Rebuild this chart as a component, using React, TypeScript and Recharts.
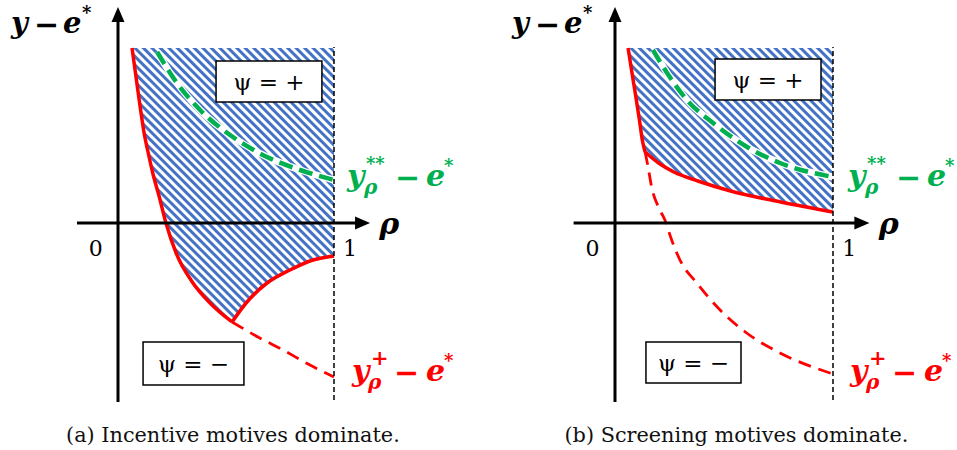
import {
  Area,
  ComposedChart,
  Line,
  ReferenceArea,
  ReferenceDot,
  ReferenceLine,
  XAxis,
  YAxis,
} from "recharts";

// values are in chart units: x = rho (0..1), y = y - e*
const TOP = 1.75;

// (a) incentive motives dominate
const redLeftA = [
  [0.065, 1.75], [0.079, 1.53], [0.093, 1.31], [0.106, 1.11], [0.12, 0.91], [0.139, 0.71],
  [0.162, 0.49], [0.19, 0.27], [0.222, 0.0], [0.269, -0.3], [0.347, -0.6], [0.426, -0.8], [0.528, -0.99],
];
const redRightA = [
  [0.528, -0.99], [0.597, -0.79], [0.69, -0.6], [0.796, -0.47], [0.903, -0.37], [1.0, -0.33],
];
const redDashA = [
  [0.528, -0.99], [0.648, -1.14], [0.764, -1.27], [0.88, -1.41], [1.0, -1.54],
];
const greenA = [
  [0.181, 1.71], [0.273, 1.4], [0.38, 1.13], [0.532, 0.86], [0.69, 0.66], [0.843, 0.53], [1.0, 0.43],
];

// (b) screening motives dominate
const redLeftB = [
  [0.06, 1.75], [0.078, 1.5], [0.095, 1.27], [0.112, 1.03], [0.126, 0.82], [0.138, 0.71],
];
const redRightB = [
  [0.138, 0.71], [0.2, 0.6], [0.27, 0.51], [0.38, 0.42], [0.53, 0.32], [0.76, 0.21], [1.0, 0.11],
];
const redDashB = [
  [0.138, 0.71], [0.15, 0.58], [0.168, 0.36], [0.199, 0.16], [0.229, 0.03], [0.26, -0.17],
  [0.298, -0.37], [0.375, -0.6], [0.482, -0.87], [0.604, -1.1], [0.757, -1.3], [1.0, -1.51],
];
const greenB = [
  [0.174, 1.73], [0.239, 1.5], [0.33, 1.23], [0.45, 1.0], [0.606, 0.76], [0.757, 0.6], [1.0, 0.46],
];

const captions = ["(a) Incentive motives dominate.", "(b) Screening motives dominate."];
const plusBoxes = [
  [0.454, 0.944, 1.21, 1.62],
  [0.459, 0.945, 1.23, 1.64],
];
const minusBoxes = [
  [0.116, 0.583, -1.62, -1.19],
  [0.142, 0.578, -1.6, -1.19],
];

const W = 478;
const H = 450;
const YMIN = -2.27;
const YMAX = 2.23;
const RED = "#FF0000";
const GREEN = "#00B050";
const BLUE = "#4472C4";
const MATH = '"DejaVu Serif", serif';

type Piece = { t: string; dx: number; dy?: number; size?: number; plain?: boolean; sans?: boolean };

const yMinusE: Piece[] = [
  { t: "y", dx: 0 },
  { t: "−", dx: 23, dy: 2, size: 30, plain: true, sans: true },
  { t: "e", dx: 52 },
  { t: "*", dx: 71, dy: -14, size: 18, plain: true },
];
const greenLabel: Piece[] = [
  { t: "y", dx: 0 },
  { t: "ρ", dx: 17, dy: 8, size: 20 },
  { t: "**", dx: 19, dy: -16, size: 18, plain: true },
  { t: "−", dx: 48, dy: 2, size: 30, plain: true, sans: true },
  { t: "e", dx: 79 },
  { t: "*", dx: 97, dy: -14, size: 18, plain: true },
];
const redLabel: Piece[] = [
  { t: "y", dx: 0 },
  { t: "ρ", dx: 16, dy: 8, size: 20 },
  { t: "+", dx: 19, dy: -16, size: 21, plain: true },
  { t: "−", dx: 42, dy: 2, size: 30, plain: true, sans: true },
  { t: "e", dx: 74 },
  { t: "*", dx: 92, dy: -14, size: 18, plain: true },
];

const toPts = (arr: number[][]) => arr.map(([x, y]) => ({ x, y }));
const toBand = (arr: number[][]) => arr.map(([x, y]) => ({ x, band: [y, TOP] }));

function MathText({ cx, cy, pieces, color, size = 30 }: any) {
  return (
    <g>
      {pieces.map((p: Piece, i: number) => (
        <text
          key={i}
          x={cx + p.dx}
          y={cy + (p.dy ?? 0)}
          fill={color}
          fontFamily={p.sans ? '"DejaVu Sans", sans-serif' : MATH}
          fontSize={p.size ?? size}
          fontWeight="bold"
          fontStyle={p.plain ? "normal" : "italic"}
        >
          {p.t}
        </text>
      ))}
    </g>
  );
}

const arrowRight = (p: any) => (
  <path d={`M${p.cx},${p.cy} L${p.cx - 15},${p.cy - 6.5} L${p.cx - 15},${p.cy + 6.5} Z`} fill="#000" />
);
const arrowUp = (p: any) => (
  <path d={`M${p.cx},${p.cy} L${p.cx - 6.5},${p.cy + 15} L${p.cx + 6.5},${p.cy + 15} Z`} fill="#000" />
);

function Panel({ idx, xmin, xmax, redLeft, redRight, redDash, green }: any) {
  const band = toBand([...redLeft, ...redRight.slice(1)]);
  const [px1, px2, py1, py2] = plusBoxes[idx];
  const [mx1, mx2, my1, my2] = minusBoxes[idx];
  const boxLabel = { position: "center" as const, fontSize: 23, fill: "#000", fontFamily: MATH };
  const line = { dot: false, activeDot: false, isAnimationActive: false, dataKey: "y", type: "monotone" as const };
  return (
    <ComposedChart width={W} height={H} margin={{ top: 0, right: 0, bottom: 0, left: 0 }}>
      <XAxis type="number" dataKey="x" domain={[xmin, xmax]} hide allowDataOverflow />
      <YAxis type="number" domain={[YMIN, YMAX]} hide allowDataOverflow />
      <Area
        data={band}
        dataKey="band"
        type="linear"
        stroke="none"
        fill="url(#hatch)"
        fillOpacity={1}
        dot={false}
        activeDot={false}
        isAnimationActive={false}
      />
      <Line {...line} data={toPts(green)} stroke="#fff" strokeWidth={7} />
      <Line {...line} data={toPts(green)} stroke={GREEN} strokeWidth={4.5} strokeDasharray="14 7" />
      <Line {...line} data={toPts(redDash)} stroke={RED} strokeWidth={2.8} strokeDasharray="13 8" />
      <Line {...line} data={toPts(redLeft)} stroke={RED} strokeWidth={3.5} />
      <Line {...line} data={toPts(redRight)} stroke={RED} strokeWidth={3.5} />
      <ReferenceLine segment={[{ x: 1, y: -1.77 }, { x: 1, y: 1.76 }]} stroke="#000" strokeWidth={1.5} strokeDasharray="5 3" ifOverflow="visible" />
      <ReferenceLine segment={[{ x: -0.19, y: 0 }, { x: 1.11, y: 0 }]} stroke="#000" strokeWidth={3} ifOverflow="visible" />
      <ReferenceLine segment={[{ x: 0, y: -1.79 }, { x: 0, y: 2.05 }]} stroke="#000" strokeWidth={3} ifOverflow="visible" />
      <ReferenceDot x={1.167} y={0} r={0} shape={arrowRight} />
      <ReferenceDot x={0} y={2.16} r={0} shape={arrowUp} />
      <ReferenceArea x1={px1} x2={px2} y1={py1} y2={py2} fill="#fff" fillOpacity={1} stroke="#000" strokeWidth={1.5} ifOverflow="visible" label={{ ...boxLabel, value: "ψ = +" }} />
      <ReferenceArea x1={mx1} x2={mx2} y1={my1} y2={my2} fill="#fff" fillOpacity={1} stroke="#000" strokeWidth={1.5} ifOverflow="visible" label={{ ...boxLabel, value: "ψ = −" }} />
      <ReferenceDot x={idx === 0 ? -0.495 : -0.472} y={1.9} r={0} shape={(p: any) => <MathText cx={p.cx} cy={p.cy} pieces={yMinusE} color="#000" size={29} />} />
      <ReferenceDot x={1.21} y={-0.11} r={0} shape={(p: any) => <MathText cx={p.cx} cy={p.cy} pieces={[{ t: "ρ", dx: 0 }]} color="#000" size={30} />} />
      <ReferenceDot x={-0.135} y={-0.325} r={0} shape={(p: any) => <text x={p.cx} y={p.cy} fontFamily={MATH} fontSize={22}>0</text>} />
      <ReferenceDot x={1.042} y={-0.325} r={0} shape={(p: any) => <text x={p.cx} y={p.cy} fontFamily={MATH} fontSize={22}>1</text>} />
      <ReferenceDot x={idx === 0 ? 1.06 : 1.069} y={0.37} r={0} shape={(p: any) => <MathText cx={p.cx} cy={p.cy} pieces={greenLabel} color={GREEN} />} />
      <ReferenceDot x={idx === 0 ? 1.083 : 1.078} y={-1.58} r={0} shape={(p: any) => <MathText cx={p.cx} cy={p.cy} pieces={redLabel} color={RED} />} />
      <ReferenceDot x={idx === 0 ? 0.532 : 0.557} y={-2.185} r={0} shape={(p: any) => (
        <text x={p.cx} y={p.cy} textAnchor="middle" fontFamily={MATH} fontSize={20.8} fill="#111">{captions[idx]}</text>
      )} />
    </ComposedChart>
  );
}

export default function App() {
  return (
    <div style={{ position: "absolute", left: 0, top: 0, width: 957, height: 450, background: "#fff" }}>
      <svg width={0} height={0} style={{ position: "absolute" }}>
        <defs>
          <pattern id="hatch" patternUnits="userSpaceOnUse" width={6} height={6} patternTransform="rotate(-45)">
            <rect x={0} y={0} width={6} height={6} fill="#fff" />
            <rect x={0} y={0} width={3} height={6} fill={BLUE} />
          </pattern>
        </defs>
      </svg>
      <div style={{ position: "absolute", left: 0, top: 0 }}>
        <Panel idx={0} xmin={-118 / 216} xmax={360 / 216} redLeft={redLeftA} redRight={redRightA} redDash={redDashA} green={greenA} />
      </div>
      <div style={{ position: "absolute", left: 479, top: 0 }}>
        <Panel idx={1} xmin={-136 / 218} xmax={342 / 218} redLeft={redLeftB} redRight={redRightB} redDash={redDashB} green={greenB} />
      </div>
    </div>
  );
}
